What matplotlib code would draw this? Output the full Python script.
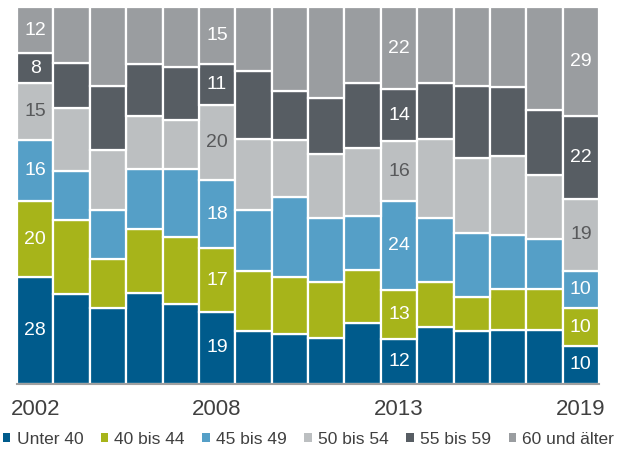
import matplotlib
matplotlib.use("Agg")
import matplotlib.pyplot as plt
import numpy as np

plt.rcParams['font.family'] = ['Liberation Sans', 'DejaVu Sans']

# 16 survey bars; only some year labels are shown on the axis
year_labels = ["2002", "", "", "", "", "2008", "", "", "", "", "2013", "", "", "", "", "2019"]
series_names = ["Unter 40", "40 bis 44", "45 bis 49", "50 bis 54", "55 bis 59", "60 und älter"]

unter40  = [28, 24, 20, 24, 21, 19, 14, 13, 12, 16, 12, 15, 14, 14, 14, 10]
b40_44   = [20, 20, 13, 17, 18, 17, 16, 15, 15, 14, 13, 12,  9, 11, 11, 10]
b45_49   = [16, 13, 13, 16, 18, 18, 16, 21, 17, 14, 24, 17, 17, 14, 13, 10]
b50_54   = [15, 17, 16, 14, 13, 20, 19, 15, 17, 18, 16, 21, 20, 21, 17, 19]
b55_59   = [ 8, 12, 17, 14, 14, 11, 18, 13, 15, 17, 14, 15, 19, 18, 17, 22]
ab60     = [12, 15, 21, 15, 16, 15, 17, 22, 24, 20, 22, 20, 21, 21, 27, 29]

labelled_bars = [0, 5, 10, 15]

colors = ["#005b8c", "#a7b41a", "#559fc7", "#bcbfc1", "#575d63", "#9a9da0"]
text_colors = ["white", "white", "white", "#58595b", "white", "white"]

data = np.array([unter40, b40_44, b45_49, b50_54, b55_59, ab60], dtype=float)
shares = data / data.sum(axis=0) * 100
x = np.arange(len(year_labels))

fig = plt.figure(figsize=(6.17, 4.53), dpi=100)
ax = fig.add_axes([17/617, (453-383.5)/453, 582/617, (383.5-7.3)/453])

bottom = np.zeros(len(x))
handles = []
for i, name in enumerate(series_names):
    bars = ax.bar(x, shares[i], bottom=bottom, width=1.0, color=colors[i],
                  edgecolor="white", linewidth=1.6, label=name, zorder=2)
    handles.append(bars)
    for j in labelled_bars:
        ax.text(x[j], bottom[j] + shares[i][j] / 2, f"{int(data[i][j])}",
                ha="center", va="center", color=text_colors[i], fontsize=14, zorder=4)
    bottom += shares[i]

ax.set_xlim(-0.5, len(x) - 0.5)
ax.set_ylim(0, 100)
ax.set_yticks([])
ax.set_xticks(x)
ax.set_xticklabels(year_labels, fontsize=16, color="#404040")
ax.tick_params(axis="x", length=0, pad=11)
for s in ["top", "left", "right"]:
    ax.spines[s].set_visible(False)
ax.spines["bottom"].set_color("#a0a0a0")
ax.spines["bottom"].set_linewidth(1.5)
ax.spines["bottom"].set_zorder(5)

leg = fig.legend(handles=handles, labels=series_names, loc="center",
                 bbox_to_anchor=(0.5, 0.03), ncol=6, frameon=False,
                 fontsize=12.5, handlelength=0.45, handleheight=0.45,
                 handletextpad=0.35, columnspacing=1.0, labelcolor="#404040",
                 borderaxespad=0, borderpad=0)
for h in leg.legend_handles:
    h.set_edgecolor("none")

fig.savefig("out.png", dpi=100)
